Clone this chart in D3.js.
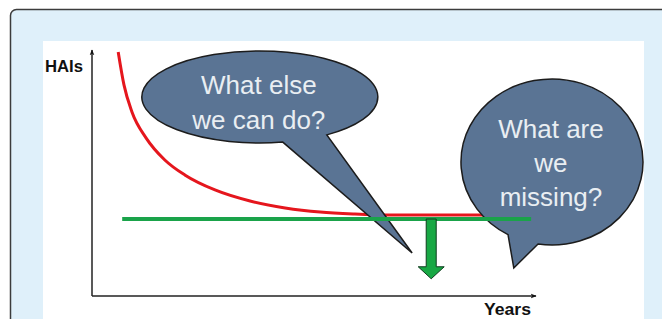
<!DOCTYPE html>
<html>
<head>
<meta charset="utf-8">
<script src="https://cdn.jsdelivr.net/npm/d3@7"></script>
<style>
  html, body { margin: 0; padding: 0; background: #fff; }
  svg { display: block; font-family: "Liberation Sans", Arial, sans-serif; }
</style>
</head>
<body>
<div id="chart"></div>
<script>
// red curve: HAIs over the years
var curveYears = [0.59, 0.72, 0.90, 1.22, 1.64, 2.09, 2.77, 3.56, 4.35, 5.14, 5.92, 6.71, 8.85];
var curveHAIs  = [9.92, 8.58, 7.48, 6.42, 5.53, 4.92, 4.31, 3.86, 3.58, 3.41, 3.33, 3.29, 3.29];

// green target line
var targetYears = [0.68, 9.89];
var targetHAIs = [3.13, 3.13];

// downward arrow (year, from HAIs, to HAIs)
var arrowYear = 7.64;
var arrowHAIs = [3.13, 0.70];

var axisLabels = ["HAIs", "Years"];
var bubbleTexts = [["What else", "we can do?"], ["What are", "we", "missing?"]];

var width = 662, height = 319;

var svg = d3.select("#chart").append("svg")
  .attr("width", width)
  .attr("height", height);

// page panel + white picture
svg.append("rect")
  .attr("x", 10.5).attr("y", 9.5)
  .attr("width", 720).attr("height", 400)
  .attr("rx", 6)
  .attr("fill", "#dff0fa")
  .attr("stroke", "#3c3c3c")
  .attr("stroke-width", 1.5);

svg.append("rect")
  .attr("x", 43).attr("y", 41)
  .attr("width", 601).attr("height", 300)
  .attr("fill", "#fff");

var x = d3.scaleLinear().domain([0, 10]).range([92, 536]);
var y = d3.scaleLinear().domain([0, 10]).range([296, 50]);

var defs = svg.append("defs");
defs.append("marker")
  .attr("id", "head")
  .attr("viewBox", "0 0 10 10")
  .attr("refX", 9).attr("refY", 5)
  .attr("markerWidth", 6).attr("markerHeight", 6)
  .attr("markerUnits", "userSpaceOnUse")
  .attr("orient", "auto")
  .append("path")
  .attr("d", "M0,1 L10,5 L0,9 L3,5 Z")
  .attr("fill", "#111");

// axes
svg.append("line")
  .attr("x1", x(0)).attr("y1", y(0))
  .attr("x2", x(0)).attr("y2", y(10))
  .attr("stroke", "#222").attr("stroke-width", 1.5)
  .attr("marker-end", "url(#head)");

svg.append("line")
  .attr("x1", x(0)).attr("y1", y(0))
  .attr("x2", x(10)).attr("y2", y(0))
  .attr("stroke", "#222").attr("stroke-width", 1.5)
  .attr("marker-end", "url(#head)");

svg.append("text")
  .attr("x", 45).attr("y", 72)
  .attr("font-size", 16).attr("font-weight", "bold")
  .attr("textLength", 38).attr("lengthAdjust", "spacingAndGlyphs")
  .attr("fill", "#111")
  .text(axisLabels[0]);

svg.append("text")
  .attr("x", 484).attr("y", 315)
  .attr("font-size", 16).attr("font-weight", "bold")
  .attr("textLength", 47).attr("lengthAdjust", "spacingAndGlyphs")
  .attr("fill", "#111")
  .text(axisLabels[1]);

// red curve
var line = d3.line()
  .x(d => x(d[0]))
  .y(d => y(d[1]))
  .curve(d3.curveMonotoneX);

svg.append("path")
  .datum(d3.zip(curveYears, curveHAIs))
  .attr("d", line)
  .attr("fill", "none")
  .attr("stroke", "#e5161d")
  .attr("stroke-width", 3);

// speech bubbles: ellipse + tail, placed in data units through the scales
function bubblePath(cx, cy, rx, ry, a1, a2, tip) {
  var px = cx + rx * Math.cos(a1 * Math.PI / 180),
      py = cy + ry * Math.sin(a1 * Math.PI / 180),
      qx = cx + rx * Math.cos(a2 * Math.PI / 180),
      qy = cy + ry * Math.sin(a2 * Math.PI / 180);
  return "M" + px + "," + py +
    "A" + rx + " " + ry + " 0 1 1 " + qx + "," + qy +
    "L" + tip[0] + "," + tip[1] + "Z";
}

var bubbles = [
  {c: [3.78, 8.09], rx: 118, ry: 46, a1: 78.8, a2: 55.4, tip: [7.21, 1.75], lines: bubbleTexts[0], first: -3, step: 35},
  {c: [10.36, 5.45], rx: 91, ry: 83, a1: 118.9, a2: 98.8, tip: [9.50, 1.14], lines: bubbleTexts[1], first: -24, step: 34}
];

var bg = svg.selectAll(".bubble")
  .data(bubbles)
  .enter()
  .append("g")
  .attr("class", "bubble");

bg.append("path")
  .attr("d", d => bubblePath(x(d.c[0]), y(d.c[1]), d.rx, d.ry, d.a1, d.a2, [x(d.tip[0]), y(d.tip[1])]))
  .attr("fill", "#5a7494")
  .attr("stroke", "#1c1c1c")
  .attr("stroke-width", 1.5)
  .attr("stroke-linejoin", "miter");

bg.each(function(d) {
  var g = d3.select(this);
  d.lines.forEach(function(t, i) {
    g.append("text")
      .attr("x", x(d.c[0]) - 1)
      .attr("y", y(d.c[1]) + d.first + i * d.step)
      .attr("text-anchor", "middle")
      .attr("font-size", 26)
      .attr("fill", "#e9eef2")
      .text(t);
  });
});

// green target line
svg.append("path")
  .datum(d3.zip(targetYears, targetHAIs))
  .attr("d", d3.line().x(d => x(d[0])).y(d => y(d[1])))
  .attr("fill", "none")
  .attr("stroke", "#1aa34a")
  .attr("stroke-width", 4);

// green down arrow
var arrowX = x(arrowYear), arrowTop = y(arrowHAIs[0]), arrowTip = y(arrowHAIs[1]);
var shaftW = 5, headW = 13, headH = 12;
svg.append("path")
  .attr("d", "M" + (arrowX - shaftW) + "," + arrowTop +
    "L" + (arrowX + shaftW) + "," + arrowTop +
    "L" + (arrowX + shaftW) + "," + (arrowTip - headH) +
    "L" + (arrowX + headW) + "," + (arrowTip - headH) +
    "L" + arrowX + "," + arrowTip +
    "L" + (arrowX - headW) + "," + (arrowTip - headH) +
    "L" + (arrowX - shaftW) + "," + (arrowTip - headH) + "Z")
  .attr("fill", "#18a844")
  .attr("stroke", "#0f3d1e")
  .attr("stroke-width", 1);
</script>
</body>
</html>
